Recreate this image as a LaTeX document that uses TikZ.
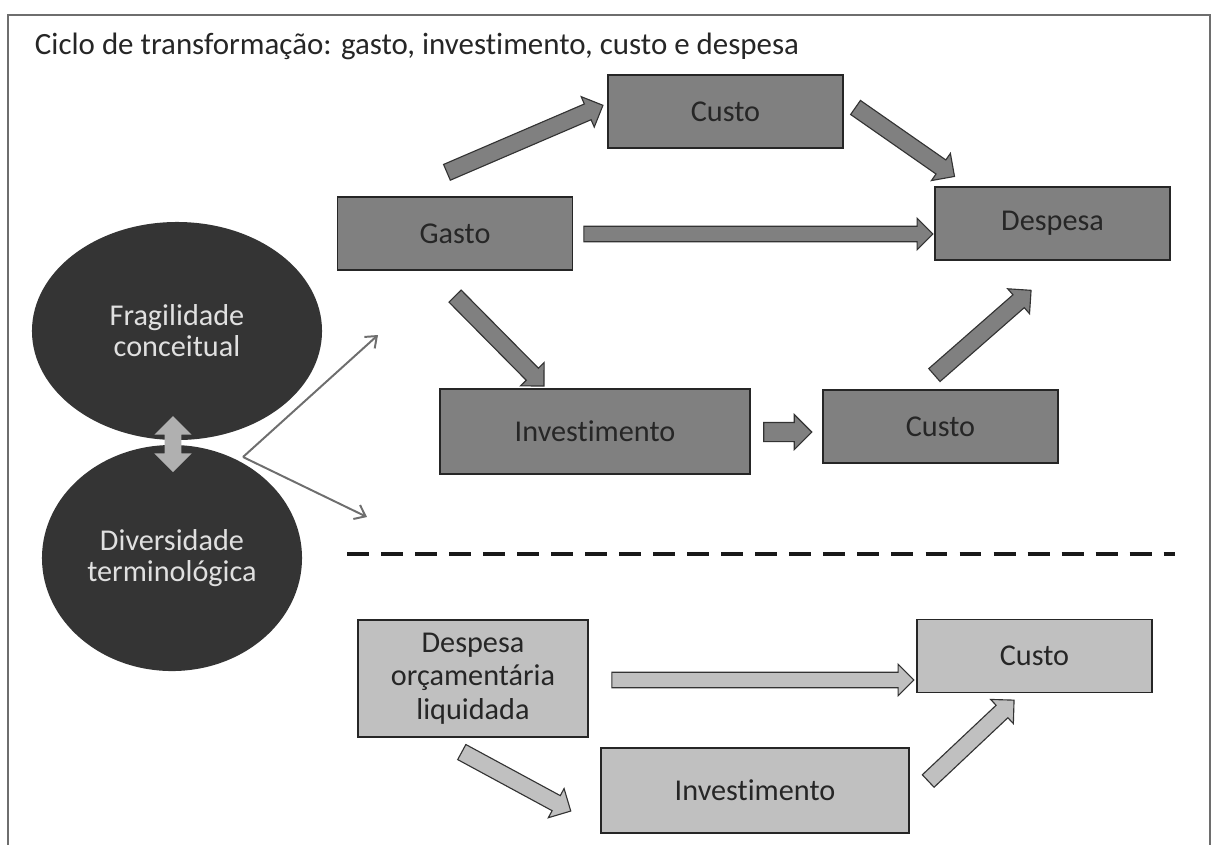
\documentclass[tikz,border=0pt]{standalone}
\usepackage{fontspec}
\setmainfont{Carlito}[Ligatures=NoCommon]
\usepackage{tikz}
\usetikzlibrary{calc}
\usetikzlibrary{positioning}
\usetikzlibrary{shapes.geometric,shapes.arrows}
\usetikzlibrary{arrows.meta}

\definecolor{boxdark}{RGB}{128,128,128}
\definecolor{boxlight}{RGB}{192,192,192}
\definecolor{blobgray}{RGB}{52,52,52}
\definecolor{framegray}{RGB}{110,110,110}
\definecolor{pale}{RGB}{176,176,176}

\tikzset{
  box/.style={rectangle, draw=black!85, line width=1.2pt, fill=boxdark,
    minimum width=5.875cm, minimum height=1.825cm, align=center,
    font=\fontsize{21.5}{24}\selectfont, text=black!85},
  lbox/.style={box, fill=boxlight},
  blob/.style={ellipse, fill=blobgray, text=white!88!black, align=center,
    inner sep=0pt, font=\fontsize{21.5}{22}\selectfont},
  barrow/.style={single arrow, draw=black!80, line width=0.8pt, fill=boxdark,
    inner sep=0pt, text height=0.4cm, text depth=0pt,
    single arrow head extend=0.2cm, single arrow tip angle=90},
  lbarrow/.style={barrow, fill=boxlight},
  thinarrow/.style={draw=framegray, line width=1.4pt,
    -{Straight Barb[length=7pt,width=11pt]}}
}

% block arrow: [style] name, from, to
\newcommand{\blockarrow}[4][]{%
  \path let \p1=(#3), \p2=(#4), \n1={atan2(\y2-\y1,\x2-\x1)},
    \n2={veclen(\x2-\x1,\y2-\y1)} in
    node[barrow,#1,rotate=\n1,minimum height=\n2] (#2) at ($(#3)!0.5!(#4)$) {};
}

\begin{document}
\begin{tikzpicture}[x=0.025cm,y=-0.025cm]
  \useasboundingbox (0,0) rectangle (1215,844);

  % frame and title
  \draw[framegray, line width=1.5pt] (8,860) |- (1210,15) -- (1210,860);
  \node[anchor=west, font=\fontsize{22}{24}\selectfont, text=black!85] (title) at (30,46)
    {Ciclo de transformação: gasto, investimento, custo e despesa};

  % upper cycle
  \node[box] (custoA) at (725.5,111.5) {Custo};
  \node[box] (gasto) at (455,233.5) {Gasto};
  \node[box] (despesa) at (1052.5,223.5) {Despesa};
  \node[box, minimum width=7.75cm, minimum height=2.125cm] (investA) at (595,431.5) {Investimento};
  \node[box] (custoB) at (940.5,426.5) {Custo};

  \coordinate (g2cA) at (443,174);   \coordinate (g2cB) at (599,107);
  \coordinate (c2dA) at (852,105);   \coordinate (c2dB) at (951,174);
  \coordinate (g2dA) at (580,234);   \coordinate (g2dB) at (929,234);
  \coordinate (g2iA) at (452,293);   \coordinate (g2iB) at (541,383);
  \coordinate (i2cA) at (759,432);   \coordinate (i2cB) at (807,432);
  \coordinate (c2eA) at (931,378);   \coordinate (c2eB) at (1028,293);

  \blockarrow{a1}{g2cA}{g2cB}
  \blockarrow{a2}{c2dA}{c2dB}
  \blockarrow[text height=0.36cm, single arrow head extend=0.2cm]{a3}{g2dA}{g2dB}
  \blockarrow{a4}{g2iA}{g2iB}
  \blockarrow[text height=0.45cm]{a5}{i2cA}{i2cB}
  \blockarrow{a6}{c2eA}{c2eB}

  % conceptual blobs
  \node[blob, minimum width=7.25cm, minimum height=5.45cm] (fragil) at (177,331)
    {Fragilidade\\conceitual};
  \node[blob, minimum width=6.5cm, minimum height=5.65cm] (divers) at (172,558)
    {Diversidade\\terminológica};
  \node[double arrow, fill=pale, rotate=90, inner sep=0pt, text height=0.4cm,
    text depth=0pt, minimum height=1.4cm, double arrow head extend=0.26cm] (link) at (173,444) {};

  \coordinate (touch) at (243,457);
  \coordinate (upEnd) at (378,335);
  \coordinate (downEnd) at (367,517);
  \draw[thinarrow] (touch) -- (upEnd);
  \draw[thinarrow] (touch) -- (downEnd);

  % divider
  \draw[black!90, line width=3.5pt, dash pattern=on 15.6pt off 8.6pt] (347,554) -- (1175,554);

  % lower cycle
  \node[lbox, minimum width=5.75cm, minimum height=2.925cm] (liquid) at (473,678.5)
    {Despesa\\orçamentária\\liquidada};
  \node[lbox] (custoC) at (1034.5,656) {Custo};
  \node[lbox, minimum width=7.7cm, minimum height=2.125cm] (investB) at (755,790.5) {Investimento};

  \coordinate (l2cA) at (608,680);   \coordinate (l2cB) at (910,680);
  \coordinate (l2iA) at (458,750);   \coordinate (l2iB) at (567,809);
  \coordinate (i2dA) at (925,784);   \coordinate (i2dB) at (1011,703);

  \blockarrow[lbarrow, text height=0.36cm]{b1}{l2cA}{l2cB}
  \blockarrow[lbarrow]{b2}{l2iA}{l2iB}
  \blockarrow[lbarrow]{b3}{i2dA}{i2dB}
\end{tikzpicture}
\end{document}
